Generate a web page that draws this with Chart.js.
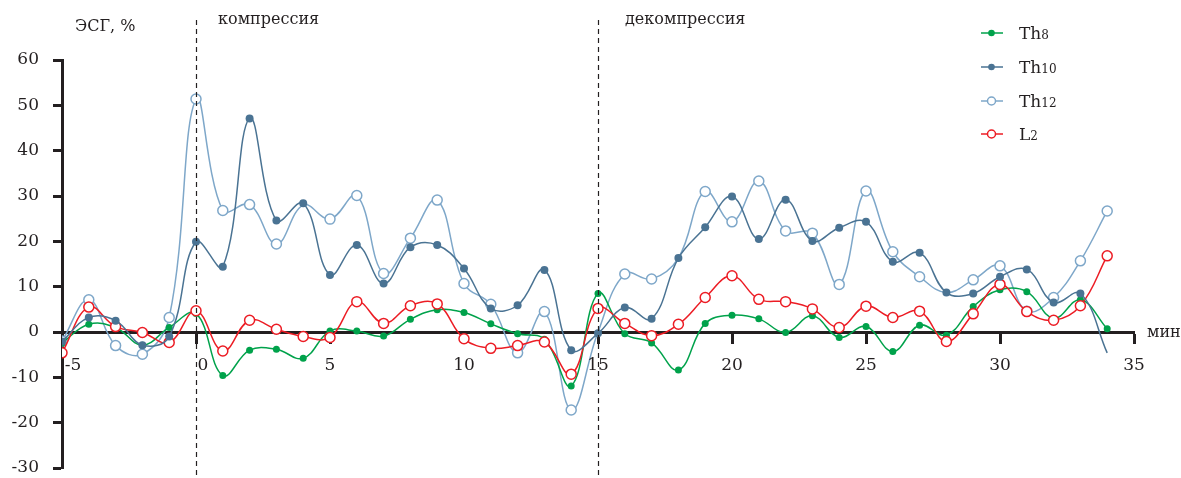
<!DOCTYPE html>
<html>
<head>
<meta charset="utf-8">
<script src="https://cdn.jsdelivr.net/npm/chart.js@4/dist/chart.umd.min.js"></script>
<style>
  html, body { margin: 0; padding: 0; background: #fff; }
  #wrap { width: 1181px; height: 478px; position: relative; }
</style>
</head>
<body>
<div id="wrap"><canvas id="myChart"></canvas></div>
<script>
// minutes from -5 to 34
const minutes = [-5, -4, -3, -2, -1, 0, 1, 2, 3, 4, 5, 6, 7, 8, 9, 10, 11, 12, 13, 14,
    15, 16, 17, 18, 19, 20, 21, 22, 23, 24, 25, 26, 27, 28, 29, 30, 31, 32, 33, 34];

const th8 = [-2.4, 1.7, 1.0, -2.9, 1.0, 4.1, -9.6, -4.0, -3.8, -5.8, 0.2, 0.2, -0.9, 2.8, 4.9, 4.3, 1.8, -0.4, -1.6, -11.9,
    8.5, -0.4, -2.4, -8.4, 1.9, 3.7, 2.9, -0.1, 3.6, -1.2, 1.2, -4.3, 1.5, -0.7, 5.6, 9.3, 8.9, 3.0, 7.1, 0.7];

const th10 = [-2.1, 3.2, 2.5, -2.9, -1.0, 19.9, 14.4, 47.1, 24.6, 28.4, 12.6, 19.2, 10.7, 18.7, 19.2, 14.0, 5.2, 5.9, 13.7, -4.0,
    -0.3, 5.4, 2.9, 16.3, 23.1, 29.9, 20.5, 29.2, 20.1, 23.0, 24.3, 15.5, 17.5, 8.7, 8.5, 12.2, 13.8, 6.5, 8.5, -4.6];

const th12 = [-2.0, 7.1, -3.0, -4.9, 3.2, 51.4, 26.8, 28.1, 19.4, 28.0, 24.9, 30.1, 12.9, 20.7, 29.1, 10.7, 6.1, -4.6, 4.5, -17.2,
    0.0, 12.8, 11.7, 16.3, 31.0, 24.3, 33.3, 22.3, 21.8, 10.5, 31.1, 17.7, 12.2, 8.7, 11.5, 14.6, 4.6, 7.6, 15.7, 26.7];

const l2 = [-4.6, 5.5, 1.2, -0.1, -2.3, 4.7, -4.2, 2.6, 0.6, -1.0, -1.2, 6.7, 1.9, 5.8, 6.2, -1.5, -3.6, -3.0, -2.2, -9.3,
    5.2, 1.9, -0.8, 1.7, 7.6, 12.4, 7.2, 6.7, 5.1, 1.0, 5.7, 3.2, 4.6, -2.1, 4.0, 10.5, 4.5, 2.6, 5.8, 16.8];

// minutes where the Th12 marker sits under a Th10 marker in the original
const th12Hidden = [4, 15, 18, 28];

const yTicks = [-30, -20, -10, 0, 10, 20, 30, 40, 50, 60];
const xTicks = [-5, 0, 5, 10, 15, 20, 25, 30, 35];
const phaseMarks = [0, 15];
const phaseNames = ['компрессия', 'декомпрессия'];

const FONT = '"DejaVu Serif", "Liberation Serif", serif';
const INK = '#231f20';

function pts(ys) {
    return minutes.map((m, i) => ({ x: m, y: ys[i] }));
}

// first entry is drawn on top
const series = [
    { label: 'Th10', sub: '10', data: th10, color: '#4a7393', open: false, r: 4 },
    { label: 'L2',   sub: '2',  data: l2,   color: '#ec1c24', open: true, r: 5 },
    { label: 'Th8',  sub: '8',  data: th8,  color: '#00a24b', open: false, r: 3.5 },
    { label: 'Th12', sub: '12', data: th12, color: '#7ea7c9', open: true, r: 5 }
];

function radiusFor(s) {
    if (s.label === 'Th10') {
        // the Th10 trace runs out past its last point without a marker
        return ctx => (ctx.dataIndex === minutes.length - 1 ? 0 : s.r);
    }
    if (s.label === 'Th12') {
        return ctx => (th12Hidden.includes(minutes[ctx.dataIndex]) ? 0 : s.r);
    }
    return s.r;
}

const datasets = series.map(s => ({
    label: s.label,
    data: pts(s.data),
    borderColor: s.color,
    backgroundColor: s.open ? '#ffffff' : s.color,
    pointBackgroundColor: s.open ? '#ffffff' : s.color,
    pointBorderColor: s.color,
    pointBorderWidth: s.open ? 1.5 : 0,
    pointRadius: radiusFor(s),
    borderWidth: 1.5,
    tension: 0.4,
    fill: false
}));

const decorations = {
    id: 'decorations',
    afterDraw(chart) {
        const ctx = chart.ctx;
        const xs = chart.scales.x;
        const ys = chart.scales.y;
        ctx.save();

        // phase boundaries
        ctx.strokeStyle = INK;
        ctx.lineWidth = 1.2;
        ctx.setLineDash([5, 4]);
        phaseMarks.forEach(m => {
            const px = Math.round(xs.getPixelForValue(m)) + 0.5;
            ctx.beginPath();
            ctx.moveTo(px, 20);
            ctx.lineTo(px, 478);
            ctx.stroke();
        });
        ctx.setLineDash([]);

        ctx.fillStyle = INK;
        ctx.textBaseline = 'middle';
        ctx.textAlign = 'left';
        ctx.font = '16px ' + FONT;
        const nameOffsets = [22, 27];
        phaseNames.forEach((name, i) => {
            ctx.fillText(name, xs.getPixelForValue(phaseMarks[i]) + nameOffsets[i], 20);
        });

        // axis titles
        ctx.fillText('ЭСГ, %', 75, 27);
        ctx.fillText('мин', 1147, ys.getPixelForValue(0) + 1);

        // x tick labels (nudged away from the axes like the original)
        ctx.font = '17px ' + FONT;
        ctx.textAlign = 'center';
        const y0 = ys.getPixelForValue(0);
        xTicks.forEach(v => {
            const nudge = v === -5 ? 11 : (v === 0 ? 7 : 0);
            ctx.fillText(String(v), xs.getPixelForValue(v) + nudge, y0 + 34);
        });

        // legend
        ctx.textAlign = 'left';
        const order = ['Th8', 'Th10', 'Th12', 'L2'];
        const rows = [33, 67, 101, 134];
        order.forEach((name, i) => {
            const s = series.find(d => d.label === name);
            const y = rows[i];
            ctx.strokeStyle = s.color;
            ctx.lineWidth = 1.5;
            ctx.beginPath();
            ctx.moveTo(981, y);
            ctx.lineTo(1003, y);
            ctx.stroke();
            ctx.beginPath();
            ctx.arc(991.5, y, s.open ? 4 : 3.3, 0, Math.PI * 2);
            ctx.fillStyle = s.open ? '#ffffff' : s.color;
            ctx.fill();
            if (s.open) ctx.stroke();
            const base = name.replace(s.sub, '');
            ctx.fillStyle = INK;
            ctx.font = '17px ' + FONT;
            ctx.textBaseline = 'alphabetic';
            const tx = 1019;
            ctx.fillText(base, tx, y + 6);
            const w = ctx.measureText(base).width;
            ctx.font = '12px ' + FONT;
            ctx.fillText(s.sub, tx + w, y + 6);
        });
        ctx.restore();
    }
};

const config = {
    type: 'line',
    data: { datasets },
    options: {
        responsive: false,
        animation: false,
        layout: { padding: { top: 60, bottom: 10, left: 0, right: 47 } },
        plugins: {
            legend: { display: false },
            tooltip: { enabled: false }
        },
        scales: {
            x: {
                type: 'linear',
                min: -5,
                max: 35,
                position: { y: 0 },
                afterFit: s => { s.height = 0; },
                afterBuildTicks: s => { s.ticks = xTicks.map(v => ({ value: v })); },
                grid: { drawOnChartArea: false, drawTicks: true, tickLength: 10, tickWidth: 3, tickColor: INK },
                border: { display: true, color: INK, width: 3 },
                ticks: { display: false }
            },
            y: {
                min: -30,
                max: 60,
                position: 'left',
                afterFit: s => {
                    s.width = 62;
                    s.paddingTop = 0;
                    s.paddingBottom = 0;
                },
                afterBuildTicks: s => { s.ticks = yTicks.map(v => ({ value: v })); },
                grid: { drawOnChartArea: false, drawTicks: true, tickLength: 9, tickWidth: 3, tickColor: INK },
                border: { display: true, color: INK, width: 3 },
                ticks: { color: INK, padding: 14, font: { family: FONT, size: 17 } }
            }
        }
    },
    plugins: [decorations]
};

const canvas = document.getElementById('myChart');
canvas.width = 1181;
canvas.height = 478;
const myChart = new Chart(canvas, config);
</script>
</body>
</html>
